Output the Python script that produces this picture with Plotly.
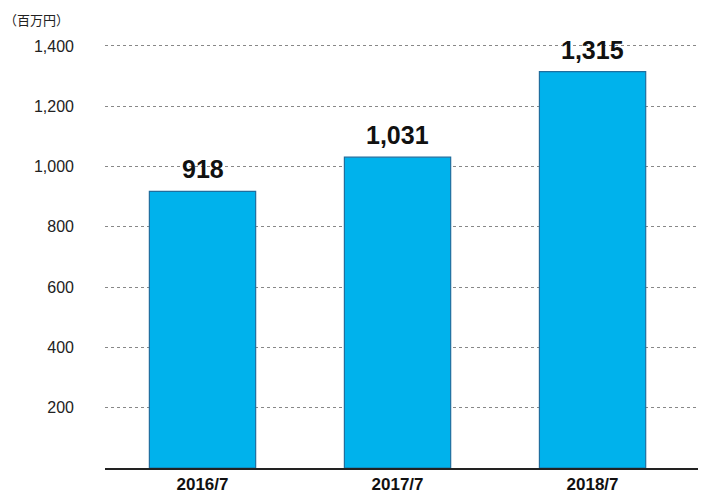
import plotly.graph_objects as go

categories = ["2016/7", "2017/7", "2018/7"]
values = [918, 1031, 1315]
label_text = ["918", "1,031", "1,315"]
yticks = [200, 400, 600, 800, 1000, 1200, 1400]
ytick_text = ["200", "400", "600", "800", "1,000", "1,200", "1,400"]

xpos = list(range(len(categories)))
fig = go.Figure(go.Bar(
    x=xpos, y=values, width=0.545,
    marker=dict(color="#00b2ec", line=dict(color="#1f6e9e", width=1.2)),
    showlegend=False, hoverinfo="skip",
))
for xi, v, t in zip(xpos, values, label_text):
    fig.add_annotation(x=xi, y=v, text="<b>%s</b>" % t, showarrow=False,
                       yanchor="bottom", yshift=6,
                       font=dict(family="Liberation Sans", size=25, color="#111"))
fig.update_layout(
    width=706, height=490, plot_bgcolor="white", paper_bgcolor="white",
    margin=dict(l=97, r=6, t=0, b=30), showlegend=False,
    font=dict(family="Liberation Sans", color="#222"),
)
fig.add_annotation(text="（百万円）", xref="paper", yref="paper", x=-0.17, y=1.0,
                   xanchor="left", yanchor="top", showarrow=False,
                   font=dict(family="Noto Sans CJK JP", size=13, color="#222"))
fig.update_xaxes(range=[-0.5, 2.592], tickvals=xpos, automargin=False,
                 ticktext=["<b>%s</b>" % c for c in categories],
                 tickfont=dict(size=17, color="#111"), showgrid=False,
                 ticklabelstandoff=0,
                 showline=True, linecolor="#222", linewidth=1.5, ticks="")
fig.update_yaxes(range=[0, 1526], tickvals=yticks, ticktext=ytick_text, automargin=False,
                 tickfont=dict(size=16, color="#222"), ticklabelstandoff=30,
                 showgrid=True, gridcolor="#888", griddash="dot", gridwidth=1,
                 zeroline=False, showline=False, ticks="")
fig.write_html("out.html")
